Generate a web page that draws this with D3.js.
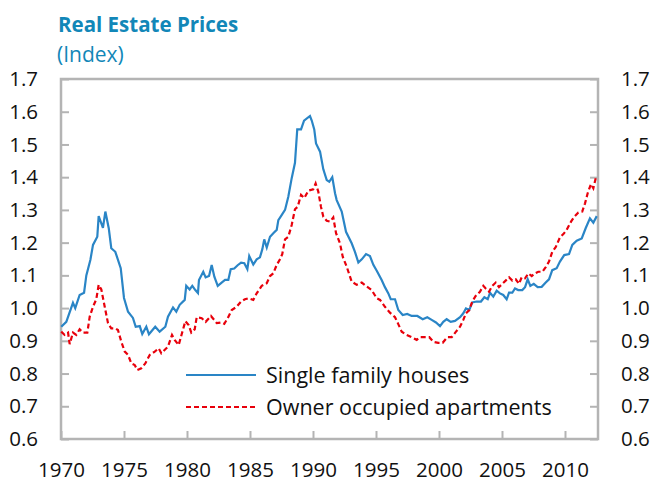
<!DOCTYPE html>
<html>
<head>
<meta charset="utf-8">
<script src="https://cdn.jsdelivr.net/npm/d3@7"></script>
<style>
  body { margin: 0; background: #fff; }
  svg { font-family: "Open Sans", "Noto Sans", sans-serif; }
</style>
</head>
<body>
<div id="chart"></div>
<script>
// tick labels
const xTicks = [1970, 1975, 1980, 1985, 1990, 1995, 2000, 2005, 2010];
const yTicks = [0.6, 0.7, 0.8, 0.9, 1.0, 1.1, 1.2, 1.3, 1.4, 1.5, 1.6, 1.7];
const seriesNames = ["Single family houses", "Owner occupied apartments"];

// [year, index]
const houses = [
  [1970.02, 0.943], [1970.42, 0.958], [1970.95, 1.016], [1971.13, 1.0], [1971.48, 1.04],
  [1971.83, 1.047], [1972.01, 1.1], [1972.33, 1.147], [1972.54, 1.193], [1972.88, 1.218],
  [1972.99, 1.281], [1973.33, 1.245], [1973.52, 1.295], [1973.79, 1.244], [1973.99, 1.183],
  [1974.31, 1.172], [1974.74, 1.122], [1975.0, 1.031], [1975.32, 0.989], [1975.71, 0.97],
  [1975.93, 0.943], [1976.25, 0.945], [1976.45, 0.921], [1976.77, 0.943], [1976.98, 0.92],
  [1977.48, 0.943], [1977.83, 0.928], [1978.28, 0.943], [1978.49, 0.974], [1978.89, 1.002],
  [1979.15, 0.989], [1979.42, 1.01], [1979.82, 1.025], [1979.94, 1.068], [1980.21, 1.057],
  [1980.42, 1.068], [1980.66, 1.055], [1980.87, 1.046], [1980.95, 1.086], [1981.29, 1.111],
  [1981.48, 1.094], [1981.75, 1.098], [1981.96, 1.132], [1982.17, 1.096], [1982.44, 1.068],
  [1982.75, 1.078], [1983.02, 1.086], [1983.28, 1.086], [1983.47, 1.119], [1983.75, 1.121],
  [1984.02, 1.131], [1984.29, 1.139], [1984.55, 1.137], [1984.79, 1.119], [1984.94, 1.159],
  [1985.26, 1.133], [1985.53, 1.149], [1985.79, 1.155], [1985.98, 1.18], [1986.13, 1.21],
  [1986.33, 1.185], [1986.59, 1.218], [1986.85, 1.229], [1987.12, 1.239], [1987.25, 1.269],
  [1987.46, 1.281], [1987.78, 1.3], [1988.04, 1.34], [1988.31, 1.397], [1988.57, 1.444],
  [1988.75, 1.546], [1989.05, 1.546], [1989.29, 1.573], [1989.76, 1.587], [1989.9, 1.573],
  [1990.1, 1.546], [1990.24, 1.503], [1990.56, 1.478], [1990.82, 1.424], [1991.09, 1.391],
  [1991.29, 1.386], [1991.53, 1.4], [1991.75, 1.351], [1991.88, 1.33], [1992.28, 1.295],
  [1992.62, 1.233], [1993.07, 1.198], [1993.33, 1.172], [1993.6, 1.139], [1993.87, 1.149],
  [1994.21, 1.165], [1994.52, 1.159], [1994.79, 1.132], [1995.06, 1.114], [1995.45, 1.086],
  [1995.71, 1.064], [1995.98, 1.045], [1996.17, 1.027], [1996.51, 1.027], [1996.77, 0.994],
  [1997.12, 0.979], [1997.48, 0.982], [1997.83, 0.976], [1998.28, 0.976], [1998.71, 0.966],
  [1999.07, 0.972], [1999.42, 0.964], [1999.76, 0.956], [2000.08, 0.945], [2000.34, 0.958],
  [2000.61, 0.966], [2000.93, 0.958], [2001.27, 0.961], [2001.67, 0.972], [2001.93, 0.984],
  [2002.14, 0.999], [2002.4, 0.994], [2002.64, 1.017], [2002.99, 1.02], [2003.33, 1.02],
  [2003.6, 1.033], [2003.87, 1.027], [2004.05, 1.047], [2004.31, 1.035], [2004.58, 1.053],
  [2004.84, 1.045], [2005.1, 1.04], [2005.37, 1.027], [2005.56, 1.047], [2005.82, 1.047],
  [2006.03, 1.06], [2006.29, 1.055], [2006.61, 1.055], [2006.83, 1.064], [2007.04, 1.088],
  [2007.25, 1.068], [2007.52, 1.074], [2007.83, 1.064], [2008.15, 1.065], [2008.47, 1.078],
  [2008.73, 1.088], [2008.99, 1.116], [2009.34, 1.122], [2009.6, 1.142], [2009.94, 1.162],
  [2010.32, 1.165], [2010.58, 1.193], [2010.93, 1.206], [2011.33, 1.213], [2011.64, 1.244],
  [2011.98, 1.274], [2012.25, 1.261], [2012.52, 1.281]
];

const apartments = [
  [1970.02, 0.928], [1970.29, 0.918], [1970.56, 0.925], [1970.69, 0.89], [1970.95, 0.925],
  [1971.21, 0.918], [1971.48, 0.935], [1971.75, 0.925], [1972.09, 0.925], [1972.28, 0.974],
  [1972.54, 1.004], [1972.8, 1.027], [1972.99, 1.071], [1973.2, 1.057], [1973.47, 1.004],
  [1973.73, 0.954], [1973.99, 0.938], [1974.31, 0.938], [1974.52, 0.933], [1974.79, 0.897],
  [1975.06, 0.867], [1975.32, 0.857], [1975.58, 0.831], [1975.85, 0.826], [1976.06, 0.811],
  [1976.37, 0.816], [1976.69, 0.831], [1977.04, 0.857], [1977.44, 0.867], [1977.75, 0.877],
  [1977.96, 0.862], [1978.28, 0.874], [1978.49, 0.882], [1978.81, 0.918], [1979.02, 0.903],
  [1979.34, 0.887], [1979.6, 0.923], [1979.87, 0.96], [1980.13, 0.948], [1980.34, 0.925],
  [1980.61, 0.935], [1980.77, 0.972], [1981.17, 0.969], [1981.48, 0.958], [1981.9, 0.976],
  [1982.36, 0.954], [1982.75, 0.956], [1982.96, 0.952], [1983.23, 0.969], [1983.55, 0.994],
  [1983.94, 1.004], [1984.29, 1.02], [1984.6, 1.027], [1984.87, 1.03], [1985.26, 1.025],
  [1985.53, 1.045], [1985.93, 1.068], [1986.33, 1.076], [1986.59, 1.098], [1986.85, 1.106],
  [1987.12, 1.132], [1987.38, 1.149], [1987.56, 1.165], [1987.78, 1.21], [1988.04, 1.218],
  [1988.31, 1.254], [1988.57, 1.302], [1988.79, 1.31], [1989.05, 1.346], [1989.31, 1.336],
  [1989.63, 1.359], [1990.02, 1.363], [1990.21, 1.381], [1990.42, 1.356], [1990.63, 1.31],
  [1990.82, 1.279], [1991.09, 1.267], [1991.35, 1.264], [1991.61, 1.277], [1991.83, 1.229],
  [1992.14, 1.198], [1992.36, 1.157], [1992.67, 1.127], [1993.07, 1.081], [1993.47, 1.071],
  [1993.87, 1.078], [1994.26, 1.066], [1994.66, 1.055], [1995.06, 1.03], [1995.32, 1.025],
  [1995.71, 1.004], [1996.11, 0.986], [1996.51, 0.972], [1996.77, 0.951], [1997.04, 0.928],
  [1997.44, 0.918], [1997.83, 0.911], [1998.23, 0.903], [1998.49, 0.911], [1998.89, 0.911],
  [1999.23, 0.911], [1999.55, 0.897], [1999.94, 0.894], [2000.29, 0.894], [2000.66, 0.911],
  [2001.01, 0.911], [2001.35, 0.928], [2001.67, 0.943], [2001.93, 0.964], [2002.14, 0.984],
  [2002.4, 0.994], [2002.64, 1.02], [2002.91, 1.037], [2003.25, 1.05], [2003.52, 1.068],
  [2003.71, 1.06], [2003.97, 1.05], [2004.23, 1.068], [2004.5, 1.078], [2004.76, 1.064],
  [2005.02, 1.074], [2005.29, 1.084], [2005.56, 1.094], [2005.82, 1.084], [2006.09, 1.088],
  [2006.35, 1.074], [2006.56, 1.094], [2006.83, 1.091], [2007.09, 1.106], [2007.36, 1.098],
  [2007.62, 1.106], [2007.88, 1.111], [2008.2, 1.111], [2008.47, 1.125], [2008.73, 1.142],
  [2008.99, 1.172], [2009.26, 1.186], [2009.6, 1.216], [2009.87, 1.226], [2010.13, 1.239],
  [2010.48, 1.264], [2010.74, 1.279], [2011.06, 1.292], [2011.37, 1.295], [2011.59, 1.32],
  [2011.8, 1.351], [2012.06, 1.379], [2012.25, 1.366], [2012.44, 1.397]
];

const W = 652, H = 485;
const margin = { top: 79, right: 54, bottom: 46, left: 61 };
const width = W - margin.left - margin.right,
  height = H - margin.top - margin.bottom;

const blue = "#2a85c6", red = "#e8000b", grey = "#b4b4b4", titleColor = "#1287b8";

const svg = d3.select("#chart").append("svg")
  .attr("width", W)
  .attr("height", H);

// title
svg.append("text")
  .attr("x", 58).attr("y", 32)
  .attr("fill", titleColor)
  .style("font-size", "20.5px")
  .style("font-weight", "bold")
  .text("Real Estate Prices");
svg.append("text")
  .attr("x", 57).attr("y", 62)
  .attr("fill", titleColor)
  .style("font-size", "21px")
  .text("(Index)");

const g = svg.append("g")
  .attr("transform", "translate(" + margin.left + "," + margin.top + ")");

// scales
const x = d3.scaleLinear().domain([1970, 2012.62]).range([0, width]);
const y = d3.scaleLinear().domain([0.6, 1.7]).range([height, 0]);

function styleAxis(sel) {
  sel.select(".domain").remove();
  sel.selectAll("line").attr("stroke", grey).attr("stroke-width", 2);
  sel.selectAll("text").attr("fill", "#111").style("font-size", "20.5px")
    .style("font-family", "'Open Sans', 'Noto Sans', sans-serif");
}

// left axis
g.append("g")
  .call(d3.axisLeft(y).tickValues(yTicks).tickFormat(d3.format(".1f"))
    .tickSize(-8).tickPadding(23))
  .call(styleAxis);

// right axis
g.append("g")
  .attr("transform", "translate(" + width + ",0)")
  .call(d3.axisRight(y).tickValues(yTicks).tickFormat(d3.format(".1f"))
    .tickSize(-8).tickPadding(23))
  .call(styleAxis);

// bottom axis
g.append("g")
  .attr("transform", "translate(0," + height + ")")
  .call(d3.axisBottom(x).tickValues(xTicks).tickFormat(d3.format("d"))
    .tickSize(-8).tickPadding(23))
  .call(styleAxis);

// frame
g.append("rect")
  .attr("width", width).attr("height", height)
  .attr("fill", "none")
  .attr("stroke", grey)
  .attr("stroke-width", 2.5);

const line = d3.line()
  .x(function (d) { return x(d[0]); })
  .y(function (d) { return y(d[1]); });

g.append("path")
  .datum(houses)
  .attr("fill", "none")
  .attr("stroke", blue)
  .attr("stroke-width", 2.2)
  .attr("d", line);

g.append("path")
  .datum(apartments)
  .attr("fill", "none")
  .attr("stroke", red)
  .attr("stroke-width", 2.2)
  .attr("stroke-dasharray", "5,3")
  .attr("d", line);

// legend
const legend = svg.append("g").attr("transform", "translate(186,375)");
const styles = [{ c: blue, dash: null }, { c: red, dash: "5,3" }];
seriesNames.forEach(function (name, i) {
  const row = legend.append("g").attr("transform", "translate(0," + i * 32 + ")");
  row.append("line")
    .attr("x1", 0).attr("x2", 70)
    .attr("stroke", styles[i].c)
    .attr("stroke-width", 2)
    .attr("stroke-dasharray", styles[i].dash);
  row.append("text")
    .attr("x", 80).attr("dy", "0.35em")
    .attr("fill", "#111")
    .style("font-size", "21.5px")
    .text(name);
});
</script>
</body>
</html>
